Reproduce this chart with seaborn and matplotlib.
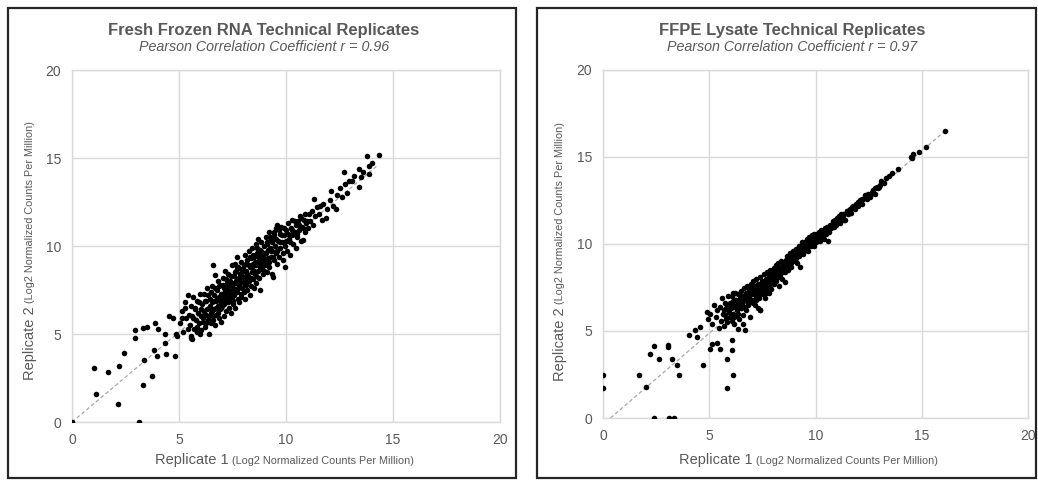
import numpy as np
import pandas as pd
import matplotlib
matplotlib.use("Agg")
import matplotlib.pyplot as plt
import seaborn as sns
from matplotlib.patches import Rectangle

# Fresh frozen RNA: replicate 1 vs replicate 2 (log2 CPM)
ff_rep1 = [0, 3.15, 2.15, 1.1, 3.3, 3.75, 1.05, 1.7, 2.2, 2.45, 3.35, 3.85, 3.95, 4.4, 4.8,
           2.95, 2.95, 3.3, 3.5, 3.9, 4.0, 4.35, 4.55, 4.7, 4.85, 4.9, 4.35, 5.3, 5.15, 5.55,
           5.6, 6.0, 5.4, 6.15, 8.8, 9.4, 9.95, 9.6, 10.8,
           5.05, 5.12, 5.2, 5.28, 5.35, 5.42, 5.48,
           5.52, 5.55, 5.58, 5.62, 5.66, 5.7, 5.74, 5.78, 5.82, 5.86, 5.9, 5.94, 5.97,
           6.02, 6.05, 6.08, 6.12, 6.18, 6.22, 6.25, 6.28, 6.32, 6.35, 6.38, 6.42, 6.45, 6.48, 6.5,
           6.53, 6.55, 6.58, 6.6, 6.62, 6.65, 6.68, 6.7, 6.72, 6.75, 6.78, 6.8, 6.82, 6.85, 6.88,
           6.9, 6.92, 6.95, 6.97, 6.99,
           7.02, 7.04, 7.06, 7.08, 7.1, 7.13, 7.15, 7.18, 7.2, 7.22, 7.25, 7.28, 7.3, 7.32, 7.35,
           7.38, 7.4, 7.42, 7.45, 7.47, 7.49,
           7.52, 7.54, 7.56, 7.58, 7.6, 7.62, 7.64, 7.67, 7.7, 7.7, 7.72, 7.75, 7.78, 7.8, 7.82,
           7.85, 7.88, 7.9, 7.92, 7.95, 7.98,
           8.02, 8.04, 8.06, 8.08, 8.1, 8.13, 8.15, 8.18, 8.2, 8.22, 8.25, 8.28, 8.3, 8.32, 8.35,
           8.38, 8.4, 8.42, 8.45, 8.48,
           8.5, 8.52, 8.55, 8.58, 8.6, 8.62, 8.65, 8.68, 8.7, 8.72, 8.75, 8.78, 8.82, 8.85, 8.88,
           8.9, 8.93, 8.96, 8.98,
           9.02, 9.05, 9.08, 9.1, 9.13, 9.16, 9.2, 9.22, 9.25, 9.28, 9.3, 9.33, 9.36, 9.42, 9.45, 9.48,
           9.52, 9.55, 9.58, 9.62, 9.66, 9.7, 9.74, 9.78, 9.82, 9.86, 9.9, 9.97,
           10.02, 10.06, 10.1, 10.14, 10.18, 10.22, 10.26, 10.3, 10.35, 10.4, 10.45, 10.48,
           10.52, 10.56, 10.6, 10.65, 10.7, 10.75, 10.85, 10.9, 10.95,
           11.02, 11.08, 11.14, 11.2, 11.26, 11.3, 11.36, 11.44,
           11.52, 11.6, 11.68, 11.75, 11.85, 11.92,
           12.05, 12.1, 12.2, 12.35, 12.4, 12.5, 12.6, 12.7, 12.75, 12.85, 12.95, 13.1, 13.2,
           13.4, 13.4, 13.5, 13.6, 13.8, 13.9, 13.9, 14.0, 14.35]
ff_rep2 = [0, 0, 1.05, 1.6, 2.1, 2.6, 3.05, 2.85, 3.2, 3.9, 3.5, 4.1, 3.75, 3.85, 3.75,
           5.2, 4.8, 5.35, 5.4, 5.65, 5.3, 5.0, 6.05, 5.9, 5.0, 4.9, 4.5, 6.45, 5.9, 4.8,
           4.7, 5.0, 7.2, 7.3, 7.5, 8.25, 8.8, 11.2, 10.35,
           5.6, 6.3, 5.1, 6.8, 5.9, 5.3, 6.1,
           5.5, 6.6, 4.9, 6.0, 7.1, 5.3, 6.4, 5.8, 6.9, 5.1, 6.2, 5.6, 7.3,
           6.0, 5.2, 6.7, 5.7, 6.3, 5.4, 6.9, 6.1, 7.6, 5.8, 6.5, 5.0, 7.0, 6.2, 5.6,
           6.8, 7.7, 6.0, 8.9, 6.4, 7.2, 5.5, 8.35, 6.9, 6.1, 7.5, 6.6, 8.0, 5.9, 7.1,
           6.4, 7.8, 6.8, 5.7, 7.3,
           6.6, 8.2, 7.0, 6.0, 7.6, 6.8, 8.6, 7.2, 6.3, 7.9, 6.9, 7.5, 8.4, 6.5, 7.1,
           8.0, 7.4, 6.2, 7.8, 8.9, 7.0,
           7.6, 6.7, 8.3, 7.2, 9.0, 7.9, 6.5, 8.6, 7.4, 9.4, 8.1, 7.0, 8.8, 7.7, 6.8,
           8.4, 7.3, 9.1, 8.0, 7.6, 8.7,
           7.4, 8.9, 8.2, 7.0, 9.5, 7.8, 8.6, 9.2, 7.5, 8.3, 9.7, 8.0, 7.2, 8.8, 9.3,
           7.7, 8.5, 9.9, 8.1, 9.0,
           7.6, 9.4, 8.4, 10.1, 8.9, 7.9, 9.6, 8.6, 10.4, 9.2, 8.2, 9.8, 9.0, 10.2, 8.7,
           9.5, 8.4, 10.0, 9.3,
           8.9, 10.5, 9.6, 8.5, 10.1, 9.3, 10.8, 8.8, 9.9, 9.4, 10.4, 8.4, 9.7, 10.6, 9.2, 10.0,
           9.6, 11.0, 9.0, 10.3, 9.4, 10.7, 9.9, 11.1, 10.2, 9.2, 10.6, 10.0,
           10.9, 9.7, 11.3, 10.4, 9.5, 11.0, 10.6, 11.5, 10.1, 10.8, 11.2, 9.9,
           10.5, 11.4, 10.9, 11.7, 10.3, 11.1, 11.5, 10.8, 11.3,
           11.0, 11.8, 11.4, 12.0, 11.2, 12.65, 11.7, 12.2,
           11.8, 12.3, 11.5, 12.4, 11.6, 12.1,
           12.6, 13.1, 12.3, 12.1, 12.9, 13.3, 12.8, 14.2, 13.5, 13.0, 13.7, 13.7, 14.0,
           14.4, 13.35, 13.9, 14.2, 15.1, 14.55, 14.1, 14.7, 15.15]
# the dense core of the fresh frozen cloud
ff_core_rep1 = [5.65, 5.75, 5.85, 5.95, 6.05, 6.1, 6.15, 6.2, 6.25, 6.3, 6.35, 6.4, 6.45, 6.5,
                6.55, 6.6, 6.65, 6.7, 6.72, 6.78, 6.82, 6.86, 6.9, 6.94, 6.98, 7.03, 7.07, 7.1,
                7.14, 7.18, 7.22, 7.26, 7.3, 7.34, 7.38, 7.42, 7.46, 7.5, 7.55, 7.6, 7.63, 7.68,
                7.72, 7.76, 7.8, 7.84, 7.88, 7.92, 7.96, 8.0, 8.05, 8.1, 8.14, 8.18, 8.22, 8.27,
                8.3, 8.35, 8.4, 8.45, 8.5, 8.55, 8.6, 8.65, 8.7, 8.75, 8.8, 8.85, 8.9, 8.95, 9.0,
                9.05, 9.1, 9.15, 9.2, 9.25, 9.3, 9.35, 9.4, 9.45, 9.5, 9.55, 9.6, 9.65, 9.7, 9.8,
                9.85, 9.9, 10.0, 10.1, 10.2, 10.3, 10.4, 10.5, 10.6, 10.7, 10.8, 10.9, 11.0]
ff_core_rep2 = [5.9, 6.5, 5.4, 6.8, 6.4, 5.9, 6.1, 6.9, 5.6, 6.4, 7.2, 6.0, 6.6, 7.4,
                6.3, 5.8, 6.9, 7.6, 6.5, 7.0, 6.2, 7.7, 6.9, 7.3, 6.5, 7.2, 7.8, 6.7,
                7.4, 8.1, 7.0, 7.6, 6.8, 7.9, 7.3, 8.3, 7.5, 6.9, 7.9, 8.5, 7.4, 8.0,
                8.8, 7.6, 8.2, 7.9, 8.7, 7.1, 8.3, 8.0, 8.6, 7.8, 9.0, 8.4, 8.0, 8.9,
                9.4, 8.2, 8.8, 9.5, 8.6, 9.1, 8.3, 9.9, 9.0, 9.4, 8.8, 9.7, 9.1, 8.6, 9.6,
                9.2, 10.2, 9.8, 9.1, 10.5, 9.7, 10.2, 9.4, 10.8, 10.0, 10.4, 9.7, 10.9, 10.2, 10.6,
                9.6, 11.0, 10.3, 10.7, 10.2, 10.9, 11.4, 10.7, 11.2, 11.6, 11.0, 11.8, 11.4]

# FFPE lysate: replicate 1 vs replicate 2 (log2 CPM)
ffpe_rep1 = [0, 0, 2.38, 3.09, 3.32, 1.68, 2.0, 2.23, 2.38, 2.62, 3.04, 3.06, 3.24, 3.48, 3.57,
             4.7, 4.03, 4.34, 4.42, 4.58, 4.89, 5.05, 5.12, 5.36, 5.49, 5.83, 5.83, 6.14, 6.07,
             6.07, 6.14, 7.4, 6.6, 9.28, 10.6,
             4.95, 5.05, 5.15, 5.2, 5.3, 5.38, 5.45,
             5.52, 5.55, 5.6, 5.64, 5.68, 5.72, 5.76, 5.8, 5.84, 5.88, 5.92, 5.96, 5.99,
             6.02, 6.05, 6.08, 6.1, 6.13, 6.16, 6.19, 6.22, 6.25, 6.28, 6.3, 6.33, 6.36, 6.39,
             6.42, 6.45, 6.48,
             6.51, 6.54, 6.57, 6.6, 6.62, 6.65, 6.68, 6.7, 6.72, 6.75, 6.78, 6.8, 6.83, 6.86,
             6.89, 6.92, 6.95, 6.98,
             7.01, 7.04, 7.07, 7.1, 7.13, 7.16, 7.19, 7.22, 7.25, 7.28, 7.31, 7.34, 7.37, 7.4,
             7.43, 7.46, 7.49,
             7.52, 7.55, 7.58, 7.61, 7.64, 7.67, 7.7, 7.73, 7.76, 7.79, 7.82, 7.85, 7.88, 7.91,
             7.94, 7.97,
             8.01, 8.04, 8.07, 8.1, 8.13, 8.16, 8.19, 8.22, 8.25, 8.28, 8.31, 8.34, 8.37, 8.4,
             8.43, 8.46, 8.49,
             8.52, 8.55, 8.57, 8.6, 8.63, 8.66, 8.69, 8.72, 8.75, 8.78, 8.81, 8.84, 8.87, 8.9,
             8.93, 8.96, 8.99,
             9.02, 9.05, 9.08, 9.11, 9.14, 9.17, 9.2, 9.23, 9.26, 9.31, 9.34, 9.37, 9.4,
             9.43, 9.46, 9.49,
             9.52, 9.55, 9.58, 9.61, 9.64, 9.67, 9.7, 9.73, 9.76, 9.79, 9.82, 9.85, 9.88, 9.91,
             9.94, 9.97,
             10.0, 10.04, 10.08, 10.12, 10.16, 10.2, 10.24, 10.28, 10.32, 10.36, 10.4, 10.44, 10.48,
             10.52, 10.56, 10.62, 10.68, 10.74, 10.8, 10.86, 10.92, 10.98,
             11.04, 11.1, 11.16, 11.22, 11.28, 11.34, 11.4, 11.46,
             11.52, 11.6, 11.68, 11.76, 11.84, 11.92,
             12.02, 12.1, 12.18, 12.25, 12.32, 12.4, 12.48, 12.56, 12.64, 12.72, 12.8, 12.88, 12.96,
             13.05, 13.1, 13.2, 13.3, 13.45, 13.6, 13.9, 14.5, 14.55, 14.6, 14.85, 15.2, 16.1]
ffpe_rep2 = [2.5, 1.73, 0, 0, 0, 2.5, 1.77, 3.66, 4.12, 3.41, 4.18, 4.1, 3.41, 3.02, 2.5,
             3.02, 4.76, 5.05, 4.66, 5.24, 6.1, 3.99, 4.28, 4.32, 3.99, 3.41, 1.73, 2.5, 3.93,
             4.47, 7.17, 6.2, 5.4, 8.7, 10.2,
             5.7, 6.0, 5.4, 6.5, 5.8, 6.2, 5.2,
             6.4, 5.6, 6.9, 6.0, 5.3, 6.6, 5.9, 6.3, 5.5, 7.0, 6.1, 5.8, 6.6,
             6.3, 5.6, 7.0, 6.0, 6.7, 5.4, 6.4, 7.2, 5.9, 6.8, 6.2, 5.1, 7.1, 6.5,
             5.7, 6.9, 6.3,
             7.3, 6.6, 5.9, 7.0, 6.4, 7.5, 6.8, 5.05, 7.2, 6.2, 7.6, 6.9, 6.5, 7.4,
             7.0, 5.8, 7.7, 7.1,
             7.4, 6.8, 7.9, 7.2, 6.5, 7.6, 7.0, 8.0, 7.3, 6.3, 7.7, 7.1, 8.1, 6.2,
             7.5, 7.9, 7.2,
             7.8, 7.3, 8.3, 7.6, 6.9, 8.0, 7.5, 8.4, 7.8, 7.2, 8.2, 7.7, 8.5, 7.4,
             8.0, 7.8,
             8.3, 7.7, 8.6, 8.0, 8.8, 7.9, 8.4, 8.9, 8.1, 7.6, 8.6, 8.3, 9.0, 8.5,
             8.0, 8.8, 8.6,
             8.9, 8.4, 7.84, 9.1, 8.7, 9.3, 8.9, 8.5, 9.2, 8.9, 9.5, 9.0, 8.7, 9.3,
             9.1, 9.6, 9.2,
             9.4, 9.0, 9.7, 9.3, 8.9, 9.6, 9.4, 9.9, 9.5, 9.8, 9.6, 10.1, 9.7,
             9.4, 10.0, 9.8,
             10.1, 9.7, 10.3, 9.9, 10.2, 9.6, 10.4, 10.0, 10.2, 9.9, 10.5, 10.1, 10.3, 9.9,
             10.6, 10.2,
             10.4, 10.1, 10.6, 10.3, 10.7, 10.2, 10.5, 10.8, 10.4, 10.6, 10.3, 10.9, 10.6,
             10.8, 11.0, 10.7, 11.1, 10.9, 11.2, 11.0, 11.4, 11.1,
             11.3, 11.6, 11.2, 11.5, 11.7, 11.4, 11.4, 11.9,
             11.7, 12.0, 11.8, 12.2, 12.0, 12.3,
             12.2, 12.5, 12.3, 12.56, 12.8, 12.6, 12.9, 12.7, 13.0, 13.1, 12.9, 13.3, 13.2,
             13.4, 13.6, 13.5, 13.8, 13.9, 14.1, 14.3, 15.0, 14.95, 15.15, 15.3, 15.55, 16.5]
# the tight core of the FFPE band
ffpe_core_rep1 = [5.7, 5.8, 5.9, 6.0, 6.1, 6.15, 6.2, 6.3, 6.35, 6.4, 6.5, 6.55, 6.6, 6.7, 6.75,
                  6.8, 6.85, 6.9, 7.0, 7.05, 7.1, 7.15, 7.2, 7.25, 7.3, 7.35, 7.4, 7.45, 7.5,
                  7.55, 7.6, 7.65, 7.7, 7.75, 7.8, 7.85, 7.9, 7.95, 8.0, 8.05, 8.1, 8.15, 8.2,
                  8.25, 8.3, 8.35, 8.4, 8.45, 8.5, 8.55, 8.6, 8.65, 8.7, 8.75, 8.8, 8.85, 8.9,
                  8.95, 9.0, 9.05, 9.1, 9.15, 9.2, 9.25, 9.3, 9.35, 9.4, 9.45, 9.5, 9.55, 9.6,
                  9.65, 9.7, 9.75, 9.8, 9.85, 9.9, 9.95, 10.0, 10.05, 10.1, 10.15, 10.2, 10.3,
                  10.4, 10.5, 10.6, 10.7, 10.8, 10.9, 11.0, 11.1, 11.2, 11.3, 11.5, 11.6, 11.7,
                  11.9, 12.0, 12.2, 12.4, 12.6, 12.8, 13.0]
ffpe_core_rep2 = [6.2, 5.7, 6.5, 6.0, 6.5, 5.8, 6.8, 6.5, 6.0, 6.8, 6.3, 7.0, 6.7, 6.4, 7.1,
                  6.6, 7.2, 6.8, 7.1, 6.6, 7.5, 7.1, 6.8, 7.6, 7.3, 6.9, 7.7, 7.4, 7.1,
                  7.8, 7.5, 7.2, 8.0, 7.6, 7.9, 7.5, 8.2, 7.9, 8.1, 8.4, 7.9, 8.5, 8.2,
                  8.7, 8.4, 8.1, 8.7, 8.4, 8.8, 8.6, 8.9, 8.6, 9.1, 8.8, 9.2, 8.9, 9.0,
                  9.4, 9.1, 9.5, 9.2, 9.6, 9.3, 9.7, 9.5, 9.8, 9.5, 9.9, 9.7, 10.0, 9.8,
                  10.1, 9.9, 10.3, 10.1, 10.4, 10.1, 10.4, 10.2, 10.5, 10.3, 10.6, 10.4, 10.7,
                  10.6, 10.9, 10.8, 11.0, 11.3, 11.2, 11.5, 11.4, 11.7, 11.6, 11.9, 11.8, 12.1,
                  12.2, 12.4, 12.6, 12.8, 12.9, 13.2, 13.3]

# trendline ends
ff_trend_x = [0, 14.3]
ff_trend_y = [0, 14.6]
ffpe_trend_x = [0.35, 16.1]
ffpe_trend_y = [0, 16.5]

panels = [
    ("Fresh Frozen RNA Technical Replicates", "0.96",
     ff_rep1 + ff_core_rep1, ff_rep2 + ff_core_rep2, ff_trend_x, ff_trend_y),
    ("FFPE Lysate Technical Replicates", "0.97",
     ffpe_rep1 + ffpe_core_rep1, ffpe_rep2 + ffpe_core_rep2, ffpe_trend_x, ffpe_trend_y),
]
ticks = [0, 5, 10, 15, 20]

sns.set_theme(style="whitegrid")
plt.rcParams['font.family'] = ['Liberation Sans', 'DejaVu Sans']

W, H = 1038, 480
fig = plt.figure(figsize=(W / 100, H / 100), dpi=100)

def fx(px):
    return px / W

def fy(py):
    return 1 - py / H

# pixel layout of each panel: box, axes, text anchors
layout = [
    dict(box=(8, 8, 516, 478), ax=(72, 70, 500, 422), cx=264, xsplit=229, ylx=30, ysplit=306),
    dict(box=(537, 8, 1036, 478), ax=(603, 70, 1028, 418), cx=792, xsplit=753, ylx=560, ysplit=307),
]
grey = "#595959"

for (title, r, x, y, tx, ty), lo in zip(panels, layout):
    bx0, by0, bx1, by1 = lo["box"]
    fig.patches.append(Rectangle((fx(bx0), fy(by1)), fx(bx1 - bx0), (by1 - by0) / H,
                                 transform=fig.transFigure, fill=False,
                                 edgecolor="#262626", linewidth=1.6))
    ax0, ay0, ax1, ay1 = lo["ax"]
    ax = fig.add_axes([fx(ax0), fy(ay1), fx(ax1 - ax0), (ay1 - ay0) / H])
    df = pd.DataFrame({"rep1": x, "rep2": y})
    ax.plot(tx, ty, linestyle=(0, (3, 2)), color="#a6a6a6", linewidth=0.9, zorder=1)
    sns.scatterplot(data=df, x="rep1", y="rep2", ax=ax, color="black", s=16,
                    linewidth=0, zorder=3)
    ax.set_xlim(0, 20)
    ax.set_ylim(0, 20)
    ax.set_xticks(ticks)
    ax.set_yticks(ticks)
    ax.grid(True, color="#d9d9d9", linewidth=1.0)
    for sp in ax.spines.values():
        sp.set_color("#d9d9d9")
        sp.set_linewidth(1.0)
    ax.tick_params(colors=grey, labelsize=10, length=0, pad=8)
    ax.set_xlabel("")
    ax.set_ylabel("")

    fig.text(fx(lo["cx"]), fy(30), title, ha="center", va="center",
             fontsize=12, fontweight="bold", color=grey)
    fig.text(fx(lo["cx"]), fy(47), "Pearson Correlation Coefficient r = " + r,
             ha="center", va="center", fontsize=10.3, style="italic", color=grey)

    fig.text(fx(lo["xsplit"]), fy(460), "Replicate 1", ha="right", va="center",
             fontsize=10.5, color=grey)
    fig.text(fx(lo["xsplit"] + 3), fy(461), "(Log2 Normalized Counts Per Million)",
             ha="left", va="center", fontsize=7.8, color=grey)
    fig.text(fx(lo["ylx"]), fy(lo["ysplit"]), "Replicate 2", ha="right", va="center",
             rotation=90, fontsize=10.5, color=grey, rotation_mode="anchor")
    fig.text(fx(lo["ylx"]), fy(lo["ysplit"] - 3), "(Log2 Normalized Counts Per Million)",
             ha="left", va="center", rotation=90, fontsize=7.8, color=grey,
             rotation_mode="anchor")

fig.savefig("out.png", dpi=100)
